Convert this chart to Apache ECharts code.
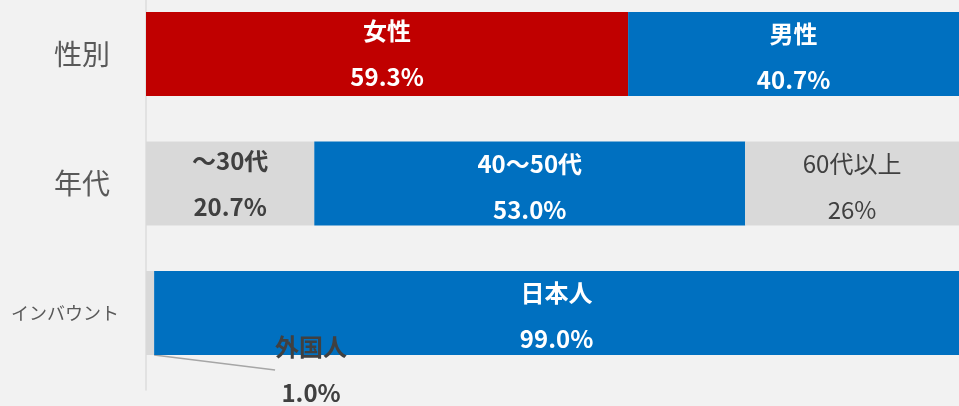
<!DOCTYPE html>
<html>
<head>
<meta charset="utf-8">
<script src="https://cdn.jsdelivr.net/npm/echarts@6/dist/echarts.min.js"></script>
<style>
  html, body { margin: 0; padding: 0; background: #f2f2f2; }
  #chart { width: 959px; height: 406px; }
</style>
</head>
<body>
<div id="chart"></div>
<script>
// --- データ ---
const categories = ['性別', '年代', 'インバウント']

const seg1Names = ['女性', '～30代', '外国人']
const seg1Values = [59.3, 20.7, 1.0]
const seg1Labels = ['59.3%', '20.7%', '1.0%']

const seg2Names = ['男性', '40～50代', '日本人']
const seg2Values = [40.7, 53.0, 99.0]
const seg2Labels = ['40.7%', '53.0%', '99.0%']

const seg3Names = ['', '60代以上', '']
const seg3Values = [null, 26.3, null]
const seg3Labels = ['', '26%', '']

// --- 色 ---
const RED = '#C00000'
const BLUE = '#0070C0'
const GRAY = '#D9D9D9'
const DARK = '#404040'

const richWhite = {
  n: { fontSize: 24, fontWeight: 'bold', color: '#fff', lineHeight: 46 },
  v: { fontSize: 24, fontWeight: 'bold', color: '#fff', lineHeight: 46 }
}
const richDark = {
  n: { fontSize: 24, fontWeight: 'bold', color: DARK, lineHeight: 46 },
  v: { fontSize: 24, fontWeight: 'bold', color: DARK, lineHeight: 46 }
}
const richDarkNormal = {
  n: { fontSize: 24, color: DARK, lineHeight: 46 },
  v: { fontSize: 24, color: DARK, lineHeight: 46 }
}

const fmt = (names, labels, i) => `{n|${names[i]}}\n{v|${labels[i]}}`

const seg1Data = seg1Values.map((v, i) => {
  const item = {
    value: v,
    itemStyle: { color: i === 0 ? RED : GRAY },
    label: {
      show: true,
      position: 'inside',
      offset: [0, 3],
      formatter: fmt(seg1Names, seg1Labels, i),
      rich: i === 0 ? richWhite : richDark
    }
  }
  if (i === 2) {
    // 外国人は外側ラベル + 引き出し線
    item.label.position = 'bottom'
    item.label.distance = 0
    item.labelLine = { show: true, lineStyle: { color: '#a6a6a6', width: 1.5 } }
  }
  return item
})

const seg2Data = seg2Values.map((v, i) => ({
  value: v,
  itemStyle: { color: BLUE },
  label: {
    show: true,
    position: 'inside',
    offset: [0, 3],
    formatter: fmt(seg2Names, seg2Labels, i),
    rich: richWhite
  }
}))

const seg3Data = seg3Values.map((v, i) => v == null ? null : ({
  value: v,
  itemStyle: { color: GRAY },
  label: {
    show: true,
    position: 'inside',
    offset: [0, 3],
    formatter: fmt(seg3Names, seg3Labels, i),
    rich: richDarkNormal
  }
}))

const chart = echarts.init(document.getElementById('chart'))

const option = {
  backgroundColor: '#f2f2f2',
  textStyle: { fontFamily: '"Noto Sans CJK JP", "Noto Sans", sans-serif' },
  animation: false,
  grid: [
    // バー用（カテゴリは目盛り位置に配置）
    { left: 146, right: 0, top: 54, bottom: 93 },
    // 縦軸線用
    { left: 146, right: 0, top: 0, bottom: 16 }
  ],
  xAxis: [
    { gridIndex: 0, type: 'value', min: 0, max: 100, show: false },
    { gridIndex: 1, type: 'value', min: 0, max: 100, show: false }
  ],
  yAxis: [
    {
      gridIndex: 0,
      type: 'category',
      data: categories,
      inverse: true,
      boundaryGap: false,
      axisLine: { show: false },
      axisTick: { show: false },
      splitLine: { show: false },
      axisLabel: {
        margin: 27,
        formatter: (v) => v === 'インバウント' ? `{s|${v}}` : `{b|${v}}`,
        rich: {
          b: { fontSize: 28, color: '#595959', padding: [0, 9, 0, 0] },
          s: { fontSize: 18, color: '#595959' }
        }
      }
    },
    {
      gridIndex: 1,
      type: 'value',
      axisLine: { show: true, lineStyle: { color: '#dcdcdc', width: 1.5 } },
      axisTick: { show: false },
      axisLabel: { show: false },
      splitLine: { show: false }
    }
  ],
  series: [
    {
      type: 'bar', stack: 'total', barWidth: 84, clip: false, data: seg1Data,
      labelLayout: (p) => p.dataIndex === 2 ? { dx: 161, dy: -31 } : {}
    },
    { type: 'bar', stack: 'total', barWidth: 84, clip: false, data: seg2Data },
    { type: 'bar', stack: 'total', barWidth: 84, clip: false, data: seg3Data }
  ]
}

chart.setOption(option)
</script>
</body>
</html>
